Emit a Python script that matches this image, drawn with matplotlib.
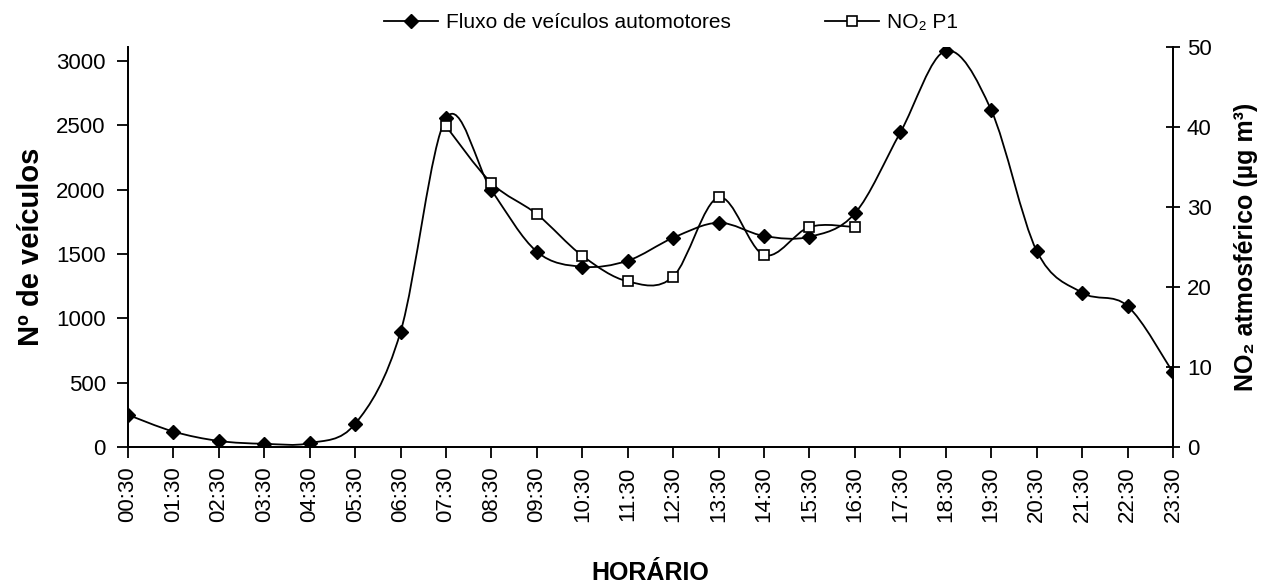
import numpy as np
import matplotlib
matplotlib.use("Agg")
import matplotlib.pyplot as plt
from matplotlib.path import Path
from matplotlib.patches import PathPatch
from matplotlib.lines import Line2D

plt.rcParams['font.family'] = ['Liberation Sans', 'DejaVu Sans']

# data
horarios = ['00:30', '01:30', '02:30', '03:30', '04:30', '05:30', '06:30', '07:30',
            '08:30', '09:30', '10:30', '11:30', '12:30', '13:30', '14:30', '15:30',
            '16:30', '17:30', '18:30', '19:30', '20:30', '21:30', '22:30', '23:30']
veiculos = [250, 120, 47, 25, 30, 180, 896, 2554, 1997, 1518, 1401, 1448, 1626,
            1743, 1640, 1634, 1816, 2445, 3079, 2618, 1525, 1199, 1096, 580]
no2_horarios = ['07:30', '08:30', '09:30', '10:30', '11:30', '12:30', '13:30',
                '14:30', '15:30', '16:30']
no2 = [40.1, 33.0, 29.1, 23.9, 20.7, 21.3, 31.2, 24.0, 27.5, 27.5]


def smooth(x, y):
    # excel-like smoothed line, drawn as bezier path
    pts = np.column_stack([x, y]).astype(float)
    n = len(pts)
    verts = [pts[0]]
    codes = [Path.MOVETO]
    for i in range(n - 1):
        p0 = pts[max(i - 1, 0)]
        p1 = pts[i]
        p2 = pts[i + 1]
        p3 = pts[min(i + 2, n - 1)]
        verts += [p1 + (p2 - p0) / 6, p2 - (p3 - p1) / 6, p2]
        codes += [Path.CURVE4] * 3
    return Path(verts, codes)


xv = np.arange(len(horarios))
xn = np.array([horarios.index(h) for h in no2_horarios])

fig = plt.figure(figsize=(12.66, 5.86), dpi=100)
ax = fig.add_axes([0.1011, 0.2372, 0.8254, 0.6826])
ax2 = ax.twinx()

ax.add_patch(PathPatch(smooth(xv, veiculos), fill=False, lw=1.3, ec='black', zorder=3))
ax.plot(xv, veiculos, ls='none', marker='D', ms=7, color='black', zorder=4)

ax2.add_patch(PathPatch(smooth(xn, no2), fill=False, lw=1.3, ec='black', zorder=3))
ax2.plot(xn, no2, ls='none', marker='s', ms=6.5, mfc='white', mec='black', mew=1.2, zorder=4)

ax.set_xlim(0, 23)
ax.set_ylim(0, 3109)
ax2.set_ylim(0, 50)
ax.set_xticks(xv)
ax.set_xticklabels(horarios, rotation=90)
ax.set_yticks(np.arange(0, 3001, 500))
ax2.set_yticks(np.arange(0, 51, 10))

for a in (ax, ax2):
    a.spines['top'].set_visible(False)
    for s in a.spines.values():
        s.set_linewidth(1.3)
ax.tick_params(axis='both', labelsize=16, width=1.3, length=8, direction='out', pad=8)
ax.tick_params(axis='x', pad=6)
ax2.tick_params(axis='y', labelsize=16, width=1.3, length=10, direction='inout', pad=5)

ax.set_ylabel('Nº de veículos', fontsize=21, fontweight='bold', labelpad=8)
ax2.set_ylabel('NO₂ atmosférico (µg m³)', fontsize=18, fontweight='bold', labelpad=16)
ax.set_xlabel('HORÁRIO', fontsize=18, fontweight='bold', labelpad=28)

handles = [Line2D([], [], color='black', lw=1.3, marker='D', ms=7),
           Line2D([], [], color='black', lw=1.3, marker='s', ms=6.5, mfc='white', mew=1.2)]
fig.legend(handles, ['Fluxo de veículos automotores', 'NO₂ P1'], loc='upper center',
           bbox_to_anchor=(0.53, 1.01), ncol=2, frameon=False, fontsize=15,
           handlelength=2.6, columnspacing=4.5, handletextpad=0.4)

fig.savefig('out.png', dpi=100)
